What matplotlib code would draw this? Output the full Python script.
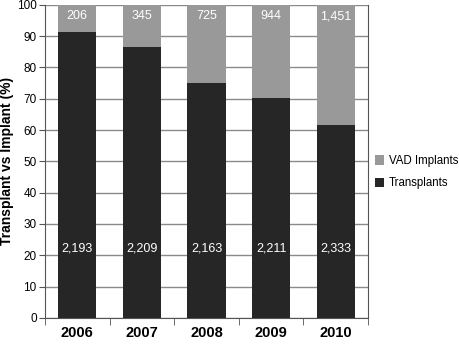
import numpy as np
import matplotlib
matplotlib.use("Agg")
import matplotlib.pyplot as plt

years = ["2006", "2007", "2008", "2009", "2010"]
transplants = [2193, 2209, 2163, 2211, 2333]
vad_implants = [206, 345, 725, 944, 1451]

tx = np.array(transplants, dtype=float)
vad = np.array(vad_implants, dtype=float)
total = tx + vad
tx_pct = tx / total * 100
vad_pct = vad / total * 100

plt.rcParams['font.family'] = ['Liberation Sans', 'DejaVu Sans']

fig = plt.figure(figsize=(4.59, 3.44), dpi=100)
ax = fig.add_axes([0.098, 0.076, 0.704, 0.91])

x = np.arange(len(years))
w = 0.59
ax.bar(x, tx_pct, w, color='#262626', label='Transplants', zorder=3)
ax.bar(x, vad_pct, w, bottom=tx_pct, color='#999999', label='VAD Implants', zorder=3)

for i in range(len(years)):
    ax.text(x[i], 22.3, f"{transplants[i]:,}", color='white', ha='center', va='center', fontsize=9, zorder=4)
    ax.text(x[i], 96.3, f"{vad_implants[i]:,}", color='white', ha='center', va='center', fontsize=9, zorder=4)

ax.set_xlim(-0.5, len(years) - 0.5)
ax.set_ylim(0, 100)
ax.set_yticks(np.arange(0, 101, 10))
ax.yaxis.grid(True, color='#8a8a8a', linewidth=1.0, zorder=0)
ax.tick_params(axis='y', labelsize=8.5, length=4, color='#555555', pad=2)

ax.set_xticks(x)
ax.set_xticklabels(years, fontsize=10.5, fontweight='bold')
ax.tick_params(axis='x', which='major', length=0, pad=6)
ax.set_xticks(np.arange(-0.5, len(years)), minor=True)
ax.tick_params(axis='x', which='minor', length=5, color='#555555')

for s in ['left', 'right', 'bottom']:
    ax.spines[s].set_color('#555555')
ax.spines['top'].set_visible(False)

ax.set_ylabel("Transplant vs Implant (%)", fontsize=10, fontweight='bold')
ax.yaxis.set_label_coords(-0.095, 0.5)

h, l = ax.get_legend_handles_labels()
ax.legend(h[::-1], l[::-1], loc='center left', bbox_to_anchor=(1.015, 0.465), frameon=False,
          borderaxespad=0, borderpad=0.2, fontsize=8.3, handlelength=0.8, handleheight=0.9,
          handletextpad=0.4, labelspacing=0.9)

fig.savefig("out.png", dpi=100)
